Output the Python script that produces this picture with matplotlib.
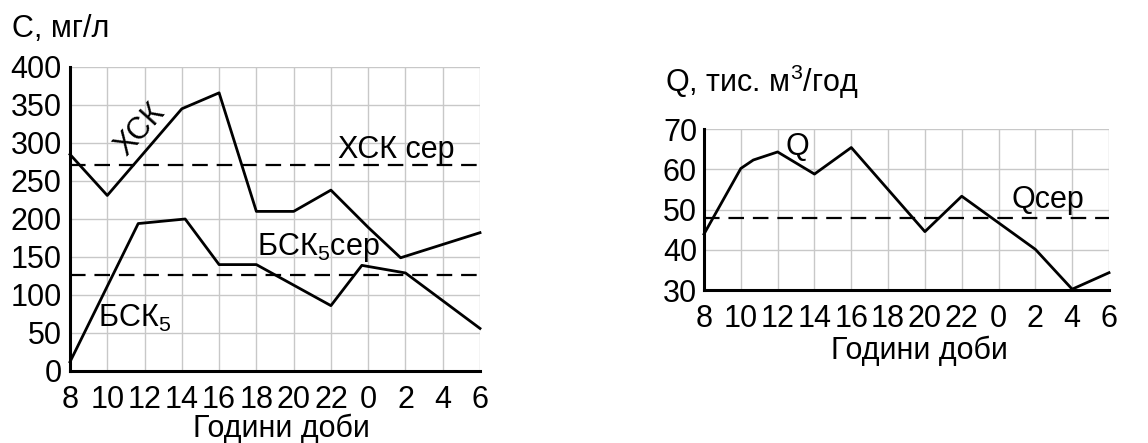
import matplotlib
matplotlib.use("Agg")
import matplotlib.pyplot as plt

plt.rcParams['font.family'] = ['Liberation Sans', 'DejaVu Sans']
plt.rcParams['mathtext.fontset'] = 'custom'
plt.rcParams['mathtext.rm'] = 'Liberation Sans'
plt.rcParams['mathtext.it'] = 'Liberation Sans'

fs = 22

hours = ['8', '10', '12', '14', '16', '18', '20', '22', '0', '2', '4', '6']

# концентрації, мг/л (положення по осі x - індекс години)
xck_x = [0, 1, 3, 4, 5, 6, 7, 8, 8.87, 11]
xck_y = [285, 231, 345, 366, 210, 210, 238, 189, 149, 182]
bck_x = [0, 1.83, 3.09, 4, 5, 7, 7.83, 9, 11]
bck_y = [12, 194, 200, 140, 140, 86, 139, 129, 56]
xck_mean = 271
bck_mean = 126

# витрата, тис. м3/год
q_x = [0, 1, 1.34, 2, 3, 4, 6, 7, 9, 10, 11]
q_y = [43.9, 60.2, 62.3, 64.3, 58.8, 65.4, 44.5, 53.3, 40.1, 30.2, 34.3]
q_mean = 47.9

W, H = 1148, 443
fig = plt.figure(figsize=(W / 100, H / 100), dpi=100)


def setup(ax, ymin, ymax, ystep):
    ax.set_xlim(0, 11)
    ax.set_ylim(ymin, ymax)
    ax.set_xticks(range(12))
    ax.set_xticklabels(hours)
    ax.set_yticks(range(ymin, ymax + 1, ystep))
    ax.grid(True, color='#c8c8c8', lw=1.0)
    ax.set_axisbelow(True)
    for s in ['top', 'right']:
        ax.spines[s].set_visible(False)
    for s in ['left', 'bottom']:
        ax.spines[s].set_linewidth(2.2)
        ax.spines[s].set_zorder(5)
    ax.tick_params(length=0, labelsize=fs)
    ax.tick_params(axis='x', pad=10)
    ax.tick_params(axis='y', pad=6)


ax1 = fig.add_axes([70 / W, 1 - 371 / H, 410 / W, 304 / H])
setup(ax1, 0, 400, 50)
ax1.plot(xck_x, xck_y, color='black', lw=2.0, clip_on=False, zorder=3)
ax1.plot(bck_x, bck_y, color='black', lw=2.0, clip_on=False, zorder=3)
ax1.axhline(xck_mean, color='black', lw=1.6, dashes=(7, 4))
ax1.axhline(bck_mean, color='black', lw=1.6, dashes=(7, 4))
ax1.text(1.88, 317, 'ХСК', fontsize=fs, rotation=48, ha='center', va='center')
ax1.text(8.75, 280, 'ХСК сер', fontsize=fs, ha='center', va='baseline')
ax1.text(6.66, 153, 'БСК$_5$сер', fontsize=fs, ha='center', va='baseline')
ax1.text(1.72, 58, 'БСК$_5$', fontsize=fs, ha='center', va='baseline')

ax2 = fig.add_axes([704 / W, 1 - 290 / H, 405 / W, 161 / H])
setup(ax2, 30, 70, 10)
ax2.tick_params(axis='y', pad=5)
ax2.plot(q_x, q_y, color='black', lw=2.0, clip_on=False, zorder=3)
ax2.axhline(q_mean, color='black', lw=1.6, dashes=(7, 4))
ax2.text(2.53, 63.5, 'Q', fontsize=fs, ha='center', va='baseline')
ax2.text(9.35, 50.4, 'Qсер', fontsize=fs, ha='center', va='baseline')

fig.text(12 / W, 1 - 37 / H, 'С, мг/л', fontsize=fs, ha='left', va='baseline')
fig.text(665 / W, 1 - 92 / H, 'Q, тис. м$^3$/год', fontsize=fs, ha='left', va='baseline')
fig.text(281 / W, 1 - 437 / H, 'Години доби', fontsize=fs, ha='center', va='baseline')
fig.text(919 / W, 1 - 359 / H, 'Години доби', fontsize=fs, ha='center', va='baseline')

fig.savefig('out.png', dpi=100, facecolor='white')
